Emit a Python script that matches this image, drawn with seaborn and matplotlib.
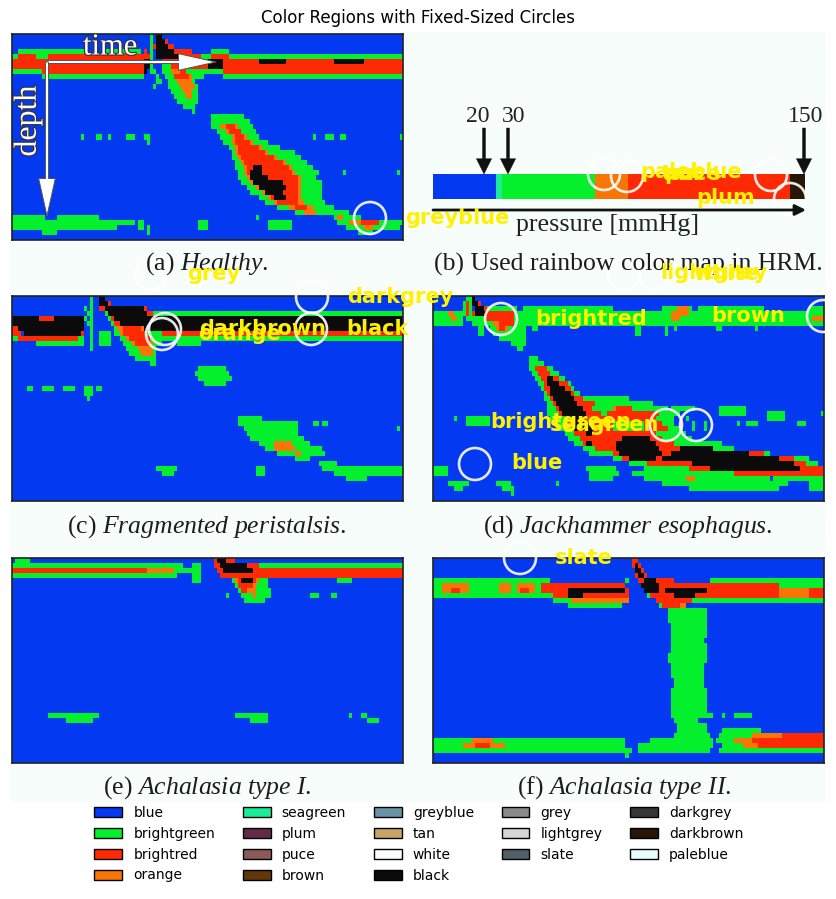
import numpy as np
import matplotlib
matplotlib.use("Agg")
import matplotlib.pyplot as plt
import matplotlib.patheffects as pe
from matplotlib.colors import ListedColormap
from matplotlib.patches import Patch
import seaborn as sns

color_names = ['blue', 'brightgreen', 'brightred', 'orange', 'seagreen', 'plum', 'puce', 'brown', 'greyblue',
               'tan', 'white', 'black', 'grey', 'lightgrey', 'slate', 'darkgrey', 'darkbrown', 'paleblue']
color_values = ['#0339f0', '#04f02c', '#ff2a04', '#f97606', '#1aed98', '#612a48', '#8a5a58', '#5f3708', '#6a93a8',
                '#c9a468', '#f6fdfb', '#0b0b0b', '#8a8a88', '#d4d6d4', '#4f6068', '#363636', '#2a1607', '#e8fdfd']
# letters used in the region rows below
region_codes = {'g': 1, 'r': 2, 'o': 3, 's': 4, 'k': 11, 'd': 16, 'b': 0}

# segmented regions, one list entry per row, "<letter><from col>-<to col>", everything else is blue
healthy = [
    "g46-47 k48-50", "g46-47 k48-51 r51-52", "g46-47 r47-48 k48-52 r52-54",
    "g2-24 g30-43 r44-45 g46-47 k48-54 r54-60 g66-72",
    "g0-44 r2-8 r12-44 r44-46 g46-47 k48-56 r56-63 g63-130 r66-72",
    "r0-44 k44-46 g46-47 r50-65 k65-70 r70-130 k82-91 k107-117",
    "r0-44 k44-46 g46-47 g50-53 r53-65 k65-70 r70-130",
    "g0-10 r10-44 k44-45 g46-48 g50-53 o53-56 r56-58 g58-62 g62-70 r70-130",
    "g10-30 g30-44 g48-49 g51-54 r54-59 o59-60 g60-64 g70-130",
    "g48-50 g52-55 o55-60 g60-61", "g47-48 g52-56 o56-61 g61-62", "g53-57 o57-60 g60-62",
    "g54-58 o58-60 g60-62", "g55-62", "g57-61", "g60-61",
    "g66-77", "g66-79", "g66-80 o69-75 r71-74", "g68-81 o71-76 r72-76",
    "g23-24 g28-30 g32-33 g38-41 g44-46 g69-82 o73-78 r74-77 g100-101 g104-107 g109-111 g129-130",
    "g45-46 g70-85 o73-80 r74-79", "g72-89 o74-83 r75-82", "g73-94 o74-85 r75-84",
    "g73-96 o75-88 r76-87", "g74-98 o76-91 r77-90", "g74-100 o77-93 r78-92 k80-83",
    "g75-102 o77-94 r78-93 k79-83 g110-111 g128-129", "g75-101 o78-96 r79-95 k79-85",
    "g76-103 o79-96 r80-95 k80-90", "g78-103 o81-96 r82-95 k82-91", "g79-103 o83-96 r84-95 k84-90",
    "g82-103 o85-96 r86-95 k87-91", "g84-104 o87-97 r88-95", "g88-107 o92-100 r94-98", "g94-112 o97-101",
    "g0-11 g15-29 g81-82 g107-116 o108-110",
    "g0-41 g42-44 g62-65 g85-93 g108-130 o112-122 r116-122",
    "g0-35 g42-44 g45-46 g62-65 g85-93 g111-129 o117-120", "g10-15 g45-46 g115-120", "",
]
fragmented = [
    "g26-27 k29-31", "g26-27 k29-32 r32-33", "g24-25 g26-27 r29-31 k31-44 r44-45",
    "g25-27 g31-33 k32-45 r45-47 g47-130",
    "r0-24 k0-9 k14-24 g24-25 g26-27 g32-33 r33-34 k34-130",
    "k0-24 g25-26 g26-27 g33-34 r34-36 k36-130",
    "r0-2 k2-24 g26-27 g34-35 o35-44 r37-43 k44-130",
    "r0-3 k4-23 r23-24 g26-27 g29-33 g34-36 o36-42 r37-45 g45-50 r50-130",
    "g0-24 r2-22 g26-27 g29-33 g36-38 o38-46 r39-46 g46-130",
    "g8-24 g26-27 g29-33 g37-40 o40-47 r41-46 g47-50 g55-63", "g26-27 g38-42 o42-47 g47-48",
    "g39-48 o43-47", "g41-48", "g46-48",
    "g62-71", "g61-72", "g62-73", "g64-71", "g5-7 g10-14 g17-21 g24-27 g28-30", "g24-27", "g25-26", "", "", "",
    "g75-83", "g75-95 g100-102 g103-105", "g77-95 g128-129", "g78-95", "g79-97", "g82-99 o87-93",
    "g84-103 o87-94", "g88-104 o94-96", "g94-99", "g102-108", "g48-55 g81-84 g103-130", "g50-54 g81-84 g107-130",
    "g111-118", "", "", "", "",
]
jackhammer = [
    "g11-13 k13-14", "g10-12 r11-12 g12-13 k13-15 r15-16",
    "g10-11 r11-12 g12-13 k14-17 r17-18 g18-28 g30-60 g76-86 o81-85 g88-110 g125-130",
    "g0-10 o5-7 g10-11 r11-12 g12-13 r13-14 k14-18 r18-27 g27-130 o79-85",
    "g0-10 o6-8 g11-130 r17-27 o79-82 o126-130", "g0-10 g13-130 o20-22 r22-27",
    "g15-17 g19-31 o21-25 r22-24 g33-35 g67-69 g77-78 g80-81 g94-96 g107-108", "g15-17 g20-31 g67-69 g77-78",
    "g22-31", "g26-31", "g28-30", "",
    "g32-35", "g32-37", "g32-40 r34-38", "g33-42 r35-39", "g34-44 r36-42 k38-40", "g35-46 r37-45 k38-42",
    "g36-47 r37-46 k39-44", "g37-49 r38-47 k39-46", "g37-55 r39-50 k40-47 g51-65", "g38-73 r40-54 k41-48",
    "g38-78 r41-53 k42-50 o60-66 r61-66 g79-87 g95-104",
    "g38-82 r42-56 k43-51 r58-75 g95-104 g111-117 g129-130",
    "g7-8 g11-19 g39-80 r44-74 k45-51 g84-85 g111-117",
    "g11-19 g40-80 r45-76 k46-53 g60-70 g86-87 g90-91 g101-102 g104-108 g121-124",
    "g41-82 r46-78 k47-54 g60-70 g86-87 g90-91", "g44-84 r47-74 k51-53 g76-84", "g45-86 r49-76 k63-72 g76-86",
    "g47-96 r50-72 k51-53 r56-80 k61-74", "g50-100 r54-90 k61-75 k82-93", "g52-112 r60-110 k62-76 k79-105",
    "g60-125 r63-120 k65-74 k76-115", "g65-128 r71-124 k86-120", "g0-5 g51-61 g70-130 r85-130 k92-122",
    "g0-5 g52-62 g66-130 r100-130", "g52-60 g70-112 o84-87 g113-130", "g5-12 g21-26 g41-42 g76-118 g125-130",
    "g7-10 g23-27 g85-115 g125-130", "g26-27", "",
]
achalasia_one = [
    "g1-6 r67-68 k68-71 r71-74",
    "g0-57 g60-63 r67-69 k69-78 r78-82 g82-130",
    "r0-54 o45-54 g54-60 g60-63 r68-70 k70-80 r80-130",
    "g0-55 g60-63 r69-72 r72-130",
    "g60-63 g73-85 o74-82 r75-81 k76-80 g108-113", "g74-85 o75-81 r75-80", "g75-86 r76-80 o78-81",
    "g71-72 g76-86 o80-81 g99-102 g106-108", "g77-84",
] + [""] * 22 + ["g12-29 g74-85 g112-113 g116-118", "g18-27 g79-85 g118-122"] + [""] * 8
achalasia_two = [
    "r66-68", "r66-69 k67-68", "r67-70 k67-69", "r67-71 k68-70",
    "g0-39 g64-65 r68-74 k70-74 r74-80 g92-130",
    "g0-36 o3-12 o22-26 o28-34 r36-64 r69-78 k69-75 r78-115 g115-130",
    "g0-36 o3-12 r6-9 o22-26 o28-34 r29-32 r36-65 k45-64 r70-79 k70-75 k77-91 r91-115 o115-130 r125-130",
    "g0-40 r40-65 k45-50 g71-72 r72-90 k80-87 r90-130 o115-125",
    "g40-65 o46-65 r74-86 g86-90 g90-130", "g45-63 g75-84 o76-84 r76-82",
    "g78-91", "g78-91", "g78-91", "g79-91", "g79-91", "g79-91", "g79-90", "g79-91", "g79-91", "g78-91", "g78-91",
    "g79-90", "g79-90", "g79-90", "g80-90", "g80-90", "g79-91", "g79-91", "g79-91", "g79-91", "g79-91",
    "g79-93 g96-97 g100-106", "g80-88", "g81-91", "g81-91 g96-109",
    "g80-92 g95-116 o106-116 r116-130",
    "g0-64 o13-20 g72-93 g94-130 o100-112 r106-130",
    "g0-64 o10-24 r14-19 g68-93 g96-130 o103-108 r108-130",
    "g0-66 g68-80 g80-92 g95-130", "g64-65", "",
]
pressure_scale = ["b0-21 s21-23 g23-54 o54-65 r65-119 d119-124"]

# white marker rings and their names as they stand in the picture
circle_x = [370, 151, 312, 165, 162, 311, 501, 823, 604, 627, 771, 790, 624, 655, 666, 696, 475, 520]
circle_y = [218, 274, 297, 329, 334, 329, 319, 316, 174, 176, 175, 199, 274, 274, 425, 425, 464, 558]
label_names = ['greyblue', 'grey', 'darkgrey', 'darkbrown', 'orange', 'black', 'brightred', 'brown', 'paleblue',
               'tan', 'puce', 'plum', 'lightgrey', 'white', 'brightgreen', 'seagreen', 'blue', 'slate']
label_x = [405, 187, 347, 199, 198, 346, 535, 711, 640, 662, 664, 696, 660, 693, 490, 550, 511, 555]
label_y = [218, 274, 297, 329, 334, 329, 319, 316, 172, 174, 174, 198, 273, 274, 422, 425, 463, 558]

captions = [r"(a) $\mathit{Healthy}$.", "(b) Used rainbow color map in HRM.",
            r"(c) $\mathit{Fragmented\ peristalsis}$.", r"(d) $\mathit{Jackhammer\ esophagus}$.",
            r"(e) $\mathit{Achalasia\ type\ I}$.", r"(f) $\mathit{Achalasia\ type\ II}$."]
caption_x = [207, 628, 207, 628, 207, 624]
caption_y = [264, 264, 527, 527, 788, 788]

W, H = 836, 899


def region_grid(rows, ncols=130):
    grid = np.zeros((len(rows), ncols))
    for j, row in enumerate(rows):
        for token in row.split():
            start, stop = token[1:].split('-')
            grid[j, int(start):int(stop)] = region_codes[token[0]]
    return grid


def panel(rows, x0, y0, w, h, frame=True):
    ax = fig.add_axes([x0 / W, 1 - (y0 + h) / H, w / W, h / H], zorder=2)
    sns.heatmap(region_grid(rows, ncols=130 if frame else 124), ax=ax, cmap=cmap, vmin=-0.5,
                vmax=len(color_values) - 0.5, cbar=False, xticklabels=False, yticklabels=False)
    for s in ax.spines.values():
        s.set_visible(frame)
        s.set_color('#222222')
        s.set_linewidth(1.2)
    return ax


sns.set_theme(style="white")
plt.rcParams['font.family'] = ['DejaVu Sans']
plt.rcParams['text.color'] = 'black'
plt.rcParams['mathtext.fontset'] = 'custom'
plt.rcParams['mathtext.rm'] = 'Liberation Serif'
plt.rcParams['mathtext.it'] = 'Liberation Serif:italic'
cmap = ListedColormap(color_values)

fig = plt.figure(figsize=(W / 100, H / 100), dpi=100)
fig.suptitle("Color Regions with Fixed-Sized Circles", x=418 / W, y=1 - 18 / H, fontsize=12, va='center')

back = fig.add_axes([10 / W, 1 - 802 / H, 816 / W, 770 / H], zorder=1)
back.set_facecolor('#f6fdfb')
back.set_xticks([])
back.set_yticks([])
for s in back.spines.values():
    s.set_visible(False)

panel(healthy, 12, 34, 391, 206)
panel(fragmented, 12, 296, 391, 205)
panel(jackhammer, 433, 296, 391, 205)
panel(achalasia_one, 12, 558, 391, 205)
panel(achalasia_two, 433, 558, 391, 205)
panel(pressure_scale, 433, 174, 372, 25, frame=False)

over = fig.add_axes([10 / W, 1 - 802 / H, 816 / W, 770 / H], zorder=3)
over.set_xlim(10, 826)
over.set_ylim(802, 32)
over.axis('off')

# arrows of panel a
white_arrow = dict(width=2.2, headwidth=12, headlength=27, fc='white', ec='#555555', lw=0.7, shrinkA=0, shrinkB=0)
over.annotate('', xy=(216, 62), xytext=(47, 62), arrowprops=white_arrow)
over.annotate('', xy=(47, 216), xytext=(47, 62), arrowprops=white_arrow)
outline = [pe.withStroke(linewidth=1.6, foreground='#333333')]
over.text(110, 47, "time", family='Liberation Serif', fontsize=22, color='white', ha='center', va='center',
          path_effects=outline)
over.text(28, 121, "depth", family='Liberation Serif', fontsize=23, color='white', rotation=90, ha='center',
          va='center', path_effects=outline)

# arrows of panel b
black_arrow = dict(width=2.2, headwidth=11, headlength=11, fc='#111111', ec='#111111', lw=0.3, shrinkA=0, shrinkB=0)
for xa in [484, 508, 804]:
    over.annotate('', xy=(xa, 174), xytext=(xa, 128), arrowprops=black_arrow)
for num, xn in zip(['20', '30', '150'], [478, 514, 806]):
    over.text(xn, 116, num, family='Liberation Serif', fontsize=17, color='#222222', ha='center', va='center')
over.annotate('', xy=(806, 210), xytext=(433, 210),
              arrowprops=dict(arrowstyle='-|>', color='#111111', lw=2, shrinkA=0, shrinkB=0, mutation_scale=16))
over.text(607, 225, "pressure [mmHg]", family='Liberation Serif', fontsize=18.7, color='#222222', ha='center',
          va='center')

for text, xc, yc in zip(captions, caption_x, caption_y):
    over.text(xc, yc, text, family='Liberation Serif', fontsize=18.5, color='#1c1c1c', ha='center', va='center')

over.scatter(circle_x, circle_y, s=530, facecolors='none', edgecolors='white', linewidths=1.9, alpha=0.9)
for name, xt, yt in zip(label_names, label_x, label_y):
    over.text(xt, yt, name, color='#fff200', fontsize=15, fontweight='bold', ha='left', va='center')

handles = [Patch(facecolor=c, edgecolor='black', label=n) for n, c in zip(color_names, color_values)]
fig.legend(handles=handles, ncol=5, loc='lower center', bbox_to_anchor=(419 / W, 1 - 895 / H), frameon=False,
           fontsize=10, columnspacing=2.0)

fig.savefig('out.png', dpi=100)
